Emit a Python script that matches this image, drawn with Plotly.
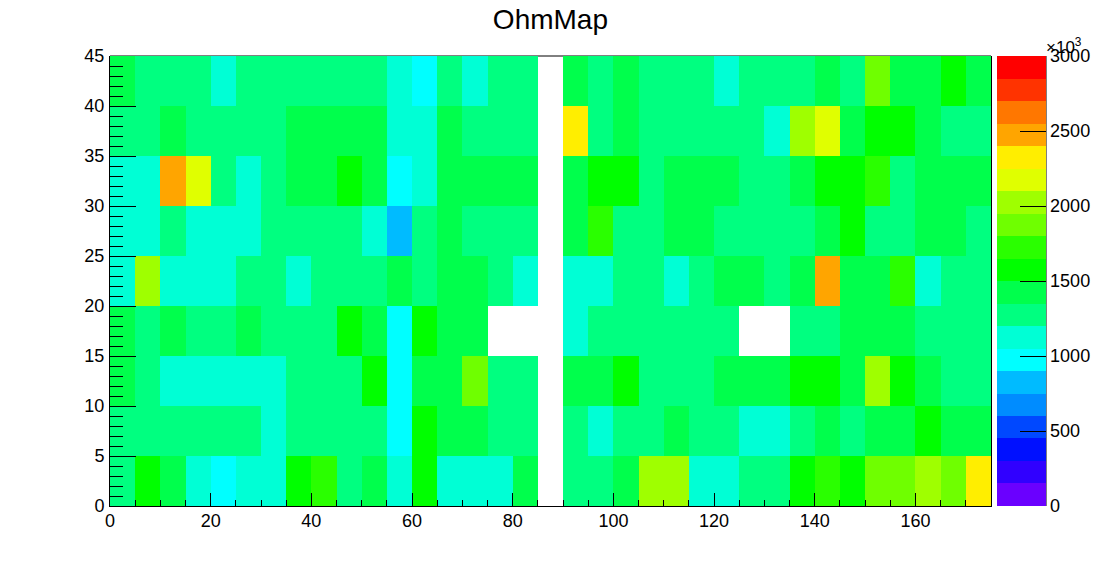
import plotly.graph_objects as go

x_edges = list(range(0, 180, 5))
y_edges = list(range(0, 50, 5))
N = None

row_0_5 = [1275,1575,1425,1125,975,1125,1125,1575,1725,1275,1425,1125,1575,1125,1125,1125,1425,N,
           1275,1275,1425,2025,2025,1125,1125,1275,1275,1575,1725,1575,1875,1875,2025,1875,2325]
row_5_10 = [1275,1275,1275,1275,1275,1275,1125,1275,1275,1275,1275,975,1575,1425,1425,1275,1275,N,
            1275,1125,1275,1275,1425,1275,1275,1125,1125,1275,1425,1275,1425,1425,1575,1425,1425]
row_10_15 = [1425,1275,1125,1125,1125,1125,1125,1275,1275,1275,1575,975,1425,1425,1875,1275,1275,N,
             1425,1425,1575,1275,1275,1275,1425,1425,1425,1575,1575,1425,2025,1575,1425,1275,1275]
row_15_20 = [1425,1275,1425,1275,1275,1425,1275,1275,1275,1575,1425,975,1575,1425,1425,N,N,N,
             1125,1275,1275,1275,1275,1275,1275,N,N,1275,1275,1425,1425,1425,1275,1275,1275]
row_20_25 = [1125,2025,1125,1125,1125,1275,1275,1125,1275,1275,1275,1425,1275,1425,1425,1275,1125,N,
             1125,1125,1275,1275,1125,1275,1425,1425,1275,1425,2475,1425,1425,1725,1125,1275,1275]
row_25_30 = [1125,1125,1275,1125,1125,1125,1275,1275,1275,1275,1125,825,1275,1425,1275,1275,1275,N,
             1425,1725,1275,1275,1425,1425,1275,1275,1275,1275,1425,1575,1275,1275,1425,1425,1275]
row_30_35 = [1125,1125,2475,2175,1275,1125,1275,1425,1425,1575,1425,975,1125,1425,1425,1425,1425,N,
             1425,1575,1575,1275,1425,1425,1425,1275,1275,1425,1575,1575,1725,1275,1425,1425,1425]
row_35_40 = [1275,1275,1425,1275,1275,1275,1275,1425,1425,1425,1425,1125,1125,1425,1275,1275,1275,N,
             2325,1275,1425,1275,1275,1275,1275,1275,1125,2025,2175,1425,1575,1575,1425,1275,1275]
row_40_45 = [1425,1275,1275,1275,1125,1275,1275,1275,1275,1275,1275,1125,975,1275,1125,1275,1275,N,
             1425,1275,1425,1275,1275,1275,1125,1275,1275,1275,1425,1275,1875,1425,1425,1575,1425]

palette = ["#6a00ff","#3000ff","#0010ff","#0048ff","#008cff","#00bbff","#00ffff",
           "#00ffd5","#00ff80","#00ff4c","#00ff00","#2aff00","#6fff00","#9fff00",
           "#e0ff00","#ffee00","#ffa500","#ff7700","#ff3300","#ff0000"]
colorscale = []
for i, c in enumerate(palette):
    colorscale += [[i / 20, c], [(i + 1) / 20, c]]

FONT = "Liberation Sans"
fig = go.Figure(go.Heatmap(
    x=x_edges, y=y_edges,
    z=[row_0_5, row_5_10, row_10_15, row_15_20, row_20_25, row_25_30, row_30_35, row_35_40, row_40_45],
    zmin=0, zmax=3000, colorscale=colorscale, hoverongaps=False,
    colorbar=dict(x=887 / 881, xanchor="left", xpad=0, ypad=0, y=0, yanchor="bottom", len=1,
                  thickness=49, outlinewidth=0, tick0=0, dtick=500, ticks="inside", ticklen=26,
                  tickwidth=1, tickcolor="black", tickfont=dict(family=FONT, size=18, color="black")),
))
fig.update_layout(
    width=1102, height=562, margin=dict(l=110, r=111, t=56, b=56, autoexpand=False),
    paper_bgcolor="white", plot_bgcolor="white", font=dict(family=FONT, color="black"),
    title=dict(text="OhmMap", x=0.4995, xanchor="center", y=0.965, yanchor="middle",
               font=dict(family=FONT, size=28, color="black")),
    xaxis=dict(range=[0, 175], tick0=0, dtick=20, ticks="inside", ticklen=13, tickcolor="black",
               showgrid=False, zeroline=False, showline=True, linecolor="black", linewidth=1,
               ticklabelstandoff=-2, tickfont=dict(family=FONT, size=18, color="black"),
               minor=dict(dtick=5, tick0=0, ticks="inside", ticklen=6, tickcolor="black", showgrid=False)),
    yaxis=dict(range=[0, 45], tick0=0, dtick=5, ticks="inside", ticklen=26, tickcolor="black",
               showgrid=False, zeroline=False, showline=True, mirror=True, linecolor="black", linewidth=1,
               ticklabelstandoff=1, tickfont=dict(family=FONT, size=18, color="black"),
               minor=dict(dtick=1, tick0=0, ticks="inside", ticklen=13, tickcolor="black", showgrid=False)),
    shapes=[
        dict(type="line", xref="paper", yref="paper", x0=0, x1=1, y0=1, y1=1, layer="below",
             line=dict(color="black", width=1)),
        dict(type="line", xref="paper", yref="paper", x0=936 / 881, x1=936 / 881, y0=0, y1=1,
             line=dict(color="black", width=1)),
    ],
    annotations=[dict(text="×10<sup>3</sup>", xref="paper", yref="paper", x=934 / 881, xanchor="left",
                      y=1.0, yanchor="bottom", yshift=-3, showarrow=False,
                      font=dict(family=FONT, size=17, color="black"))],
)
fig.write_html("out.html", config={"displayModeBar": False},
               post_script="document.body.style.margin='0';")
